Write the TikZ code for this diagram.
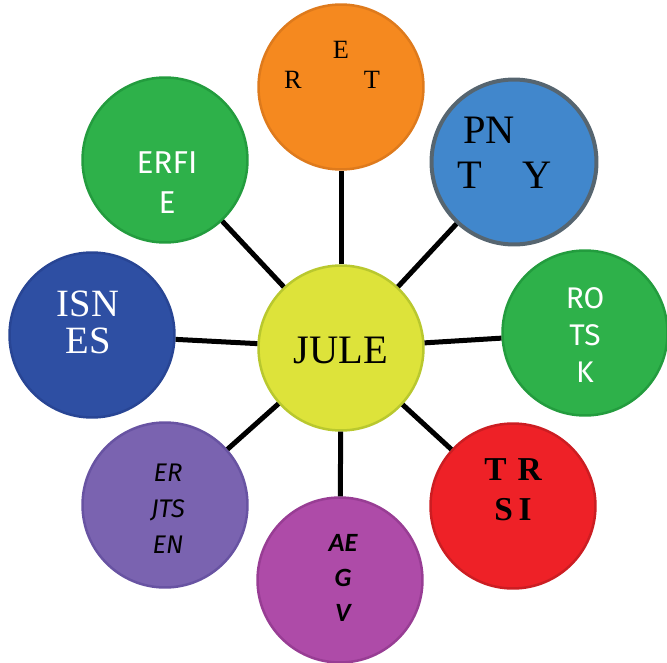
\documentclass[tikz,border=0pt]{standalone}
\usepackage{fontspec}
\setmainfont{Liberation Serif}
\newfontfamily\handfont{Fira Sans}
\newfontfamily\calfont{Carlito}

\definecolor{hubyellow}{HTML}{DDE33A}
\definecolor{hubyellowd}{HTML}{B9C82E}
\definecolor{retorange}{HTML}{F5891F}
\definecolor{retoranged}{HTML}{DE7A1C}
\definecolor{pntblue}{HTML}{4187CC}
\definecolor{pntgray}{HTML}{566570}
\definecolor{leafgreen}{HTML}{2EB14A}
\definecolor{leafgreend}{HTML}{239C3E}
\definecolor{trsred}{HTML}{EE2127}
\definecolor{trsredd}{HTML}{CC1D22}
\definecolor{aegpink}{HTML}{AE4BA8}
\definecolor{aegpinkd}{HTML}{983D94}
\definecolor{ejlilac}{HTML}{7A63B0}
\definecolor{ejlilacd}{HTML}{6853A2}
\definecolor{isnblue}{HTML}{2E4FA3}
\definecolor{isnblued}{HTML}{284594}

\begin{document}
\begin{tikzpicture}[x=0.02cm,y=-0.02cm,
    bubble/.style={circle,minimum size=3.3cm,line width=0.05cm,inner sep=0pt},
    spoke/.style={line width=0.1cm,black},
    lbl/.style={align=center,inner sep=0pt}]
    \useasboundingbox (0,0) rectangle (667,663);

    % circles
    \node[bubble,fill=hubyellow,draw=hubyellowd] (jule) at (341,348) {};
    \node[bubble,fill=retorange,draw=retoranged] (ret) at (341,87) {};
    \node[bubble,fill=pntblue,draw=pntgray,line width=0.08cm] (pnty) at (514,162) {};
    \node[bubble,fill=leafgreen,draw=leafgreend] (rotsk) at (585,333) {};
    \node[bubble,fill=trsred,draw=trsredd] (trsi) at (513,506) {};
    \node[bubble,fill=aegpink,draw=aegpinkd] (aegv) at (340,580) {};
    \node[bubble,fill=ejlilac,draw=ejlilacd] (erjts) at (165,505) {};
    \node[bubble,fill=isnblue,draw=isnblued] (isnes) at (92,335) {};
    \node[bubble,fill=leafgreen,draw=leafgreend] (erfie) at (165,160) {};

    % spokes
    \foreach \leaf in {ret,pnty,rotsk,trsi,aegv,erjts,isnes,erfie}
        \draw[spoke] (jule) -- (\leaf);

    % texts
    \node[lbl,font=\fontsize{23}{24}\selectfont] (julet) at (341,350) {JULE};

    \node[lbl,font=\fontsize{15}{16}\selectfont] (rete) at (341,50) {E};
    \node[lbl,font=\fontsize{15}{16}\selectfont] (retr) at (293,80) {R};
    \node[lbl,font=\fontsize{15}{16}\selectfont] (rett) at (372,80) {T};

    \node[lbl,font=\fontsize{23}{24}\selectfont] (pntpn) at (489,130) {PN};
    \node[lbl,font=\fontsize{23}{24}\selectfont] (pntt) at (470,175) {T};
    \node[lbl,font=\fontsize{23}{24}\selectfont] (pnty2) at (537,175) {Y};

    \node[lbl,text=white,font=\handfont\fontsize{17}{21}\selectfont] (rotskt) at (585,335) {RO\\TS\\K};

    \node[lbl,font=\bfseries\fontsize{19}{22.7}\selectfont] (trsit) at (513,490) {T\,\,R\\S\,I};

    \node[lbl,font=\calfont\bfseries\itshape\fontsize{15}{20}\selectfont] (aegvt) at (343,578) {AE\\G\\V};

    \node[lbl,font=\handfont\itshape\fontsize{14.5}{20.4}\selectfont] (erjtst) at (168,509) {ER\\JTS\\EN};

    \node[lbl,text=white,font=\fontsize{22}{21}\selectfont] (isnest) at (88,322) {ISN\\ES};

    \node[lbl,text=white,font=\handfont\fontsize{18}{22.7}\selectfont] (erfiet) at (167,183) {ERFI\\E};
\end{tikzpicture}
\end{document}
